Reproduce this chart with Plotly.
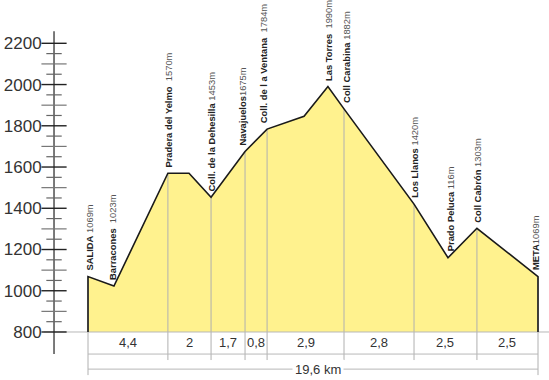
import plotly.graph_objects as go

# ---------------- data ----------------
profile_km = [0, 1.13, 3.48, 4.40, 5.36, 6.84, 7.80, 9.41, 10.45, 11.15, 14.20, 15.68, 16.94, 19.6]
profile_alt = [1069, 1023, 1570, 1570, 1453, 1675, 1784, 1846, 1990, 1882, 1420, 1160, 1303, 1069]
point_names = ["SALIDA", "Barracones", "Pradera del Yelmo", None, "Coll. de la Dehesilla",
               "Navajuelos", "Coll. de l a Ventana", None, "Las Torres", "Coll Carabina",
               "Los Llanos", "Prado Peluca", "Coll Cabrón", "META"]
point_alt_text = ["1069m", "1023m", "1570m", None, "1453m", "1675m", "1784m", None,
                  "1990m", "1882m", "1420m", "116m", "1303m", "1069m"]
name_sep = [" ", "  ", "  ", None, " ", "", "  ", None, "  ", " ", " ", " ", " ", ""]

segment_idx = [0, 2, 4, 5, 6, 9, 10, 12, 13]          # profile points that split segments
segment_labels = ["4,4", "2", "1,7", "0,8", "2,9", "2,8", "2,5", "2,5"]
total_label = "19,6 km"

ytick_vals = [800, 1000, 1200, 1400, 1600, 1800, 2000, 2200]
ytick_text = ["800", "1000", "1200", "1400", "1600", "1800", "2000", "2200"]

# ---------------- style ----------------
FONT = "Liberation Sans, Arial, sans-serif"
FILL = "#FFF28E"
BASE = 800
AXIS_X = -1.48
label_xshift = [2, -2, 1, 0, 0, -2, -4, 0, 0, 3, 1, 2, 1, -3]

fig = go.Figure()

# filled profile (no outline)
poly_x = [profile_km[0]] + profile_km + [profile_km[-1]]
poly_y = [BASE] + profile_alt + [BASE]
fig.add_trace(go.Scatter(x=poly_x, y=poly_y, mode="lines", fill="toself",
                         fillcolor=FILL, line=dict(width=0), hoverinfo="skip"))

# gray vertical separators
vx, vy = [], []
for k, i in enumerate(segment_idx):
    bottom = 591 if k in (0, len(segment_idx) - 1) else 664
    vx += [profile_km[i], profile_km[i], None]
    vy += [profile_alt[i], bottom, None]
fig.add_trace(go.Scatter(x=vx, y=vy, mode="lines", line=dict(color="#b0b0b0", width=1),
                         hoverinfo="skip"))

# horizontal gray lines under the profile
x0, x1 = profile_km[segment_idx[0]], profile_km[segment_idx[-1]]
fig.add_trace(go.Scatter(x=[-1.93, 20.1, None, x0, x1, None, x0, x1],
                         y=[BASE, BASE, None, 693, 693, None, 620, 620],
                         mode="lines", line=dict(color="#b8b8b8", width=1), hoverinfo="skip"))

# outline
fig.add_trace(go.Scatter(x=poly_x, y=poly_y, mode="lines",
                         line=dict(color="#1a1a1a", width=1.6), hoverinfo="skip"))

# y axis line
fig.add_trace(go.Scatter(x=[AXIS_X, AXIS_X], y=[693, 2258], mode="lines",
                         line=dict(color="#333333", width=1.3), hoverinfo="skip"))

# tick marks crossing the axis
t50 = [v for v in range(800, 2201, 50) if v % 100 != 0]
t100 = [v for v in range(800, 2201, 100) if v % 200 != 0]
fig.add_trace(go.Scatter(x=[AXIS_X] * len(t50), y=t50, mode="markers",
                         marker=dict(symbol="line-ew", size=11, line=dict(width=1.2, color="#666")),
                         hoverinfo="skip"))
fig.add_trace(go.Scatter(x=[AXIS_X] * len(t100), y=t100, mode="markers",
                         marker=dict(symbol="line-ew", size=18, line=dict(width=1.2, color="#777")),
                         hoverinfo="skip"))
fig.add_trace(go.Scatter(x=[AXIS_X] * len(ytick_vals), y=ytick_vals, mode="markers",
                         marker=dict(symbol="line-ew", size=18, line=dict(width=1.4, color="#222")),
                         hoverinfo="skip"))

annotations = []
# point labels
for i, nm in enumerate(point_names):
    if nm is None:
        continue
    txt = f"<b>{nm}</b>{name_sep[i]}<span style='color:#555'>{point_alt_text[i]}</span>"
    annotations.append(dict(x=profile_km[i], y=profile_alt[i], text=txt, textangle=-90,
                            showarrow=False, xanchor="center", yanchor="bottom",
                            yshift=4, xshift=label_xshift[i],
                            font=dict(family=FONT, size=9.4, color="#222")))
# segment labels
for k, lab in enumerate(segment_labels):
    a = profile_km[segment_idx[k]]
    b = profile_km[segment_idx[k + 1]]
    annotations.append(dict(x=(a + b) / 2, y=747, text=lab, showarrow=False,
                            font=dict(family=FONT, size=13, color="#333")))
annotations.append(dict(x=(x0 + x1) / 2 + 0.2, y=620, text=total_label, showarrow=False,
                        bgcolor="white", borderpad=2,
                        font=dict(family=FONT, size=13, color="#333")))

fig.update_layout(
    width=549, height=380,
    margin=dict(l=0, r=0, t=0, b=0),
    paper_bgcolor="white", plot_bgcolor="white",
    showlegend=False,
    annotations=annotations,
    xaxis=dict(range=[-3.833, 20.079], visible=False),
    yaxis=dict(range=[567.2, 2410], anchor="free", position=54 / 549,
               tickvals=ytick_vals, ticktext=ytick_text,
               ticks="outside", ticklen=9, tickcolor="rgba(0,0,0,0)",
               showgrid=False, zeroline=False, showline=False,
               tickfont=dict(family=FONT, size=17, color="#333")),
)

fig.write_html("out.html", config={"displayModeBar": False},
               post_script="document.body.style.margin='0';document.body.style.overflow='hidden';")
